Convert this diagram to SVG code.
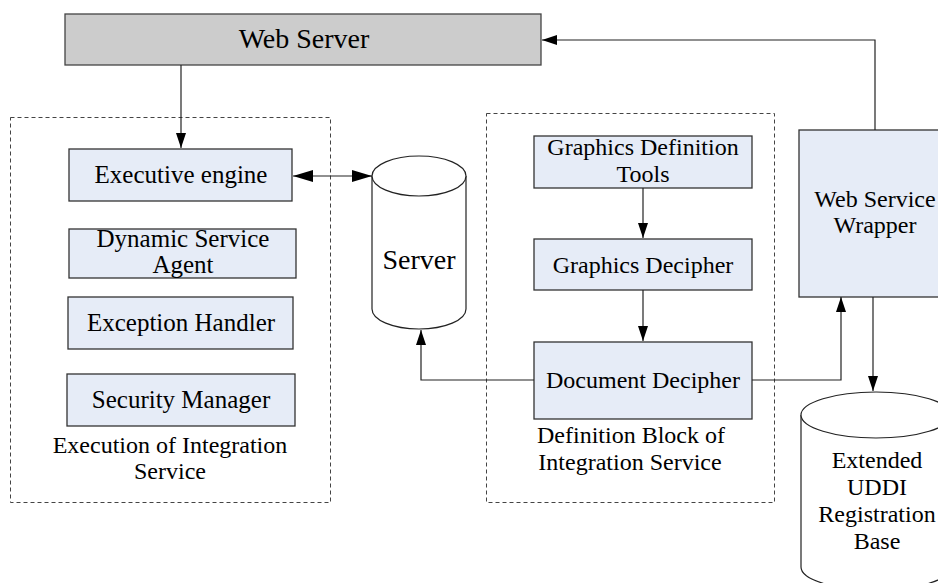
<svg xmlns="http://www.w3.org/2000/svg" width="938" height="583" viewBox="0 0 938 583">
  <defs>
    <marker id="arrow" viewBox="0 0 15 10" refX="15" refY="5" markerWidth="15" markerHeight="10" markerUnits="userSpaceOnUse" orient="auto-start-reverse">
      <path d="M0,0 L15,5 L0,10 Z" fill="#000"/>
    </marker>
    <marker id="arrowBig" viewBox="0 0 20 12" refX="20" refY="6" markerWidth="20" markerHeight="12" markerUnits="userSpaceOnUse" orient="auto-start-reverse">
      <path d="M0,0 L20,6 L0,12 Z" fill="#000"/>
    </marker>
  </defs>
  <style>
    text { font-family: "Liberation Serif", "Times New Roman", serif; fill: #000; text-anchor: middle; }
    .box { fill: #e6ecf7; stroke: #333; stroke-width: 1.3; }
    .gray { fill: #cccccc; stroke: #444; stroke-width: 1.3; }
    .group { fill: none; stroke: #444; stroke-width: 1; stroke-dasharray: 4 3; }
    .db { fill: #fff; stroke: #222; stroke-width: 1.2; }
    .wire { fill: none; stroke: #222; stroke-width: 1.2; }
    .t25 { font-size: 25px; }
    .t24 { font-size: 24px; }
    .t28 { font-size: 28px; }
  </style>
  <rect width="938" height="583" fill="#fff"/>

  <!-- dashed grouping frames -->
  <g id="execution-block">
    <rect class="group" x="10.5" y="117.5" width="320" height="385"/>
    <text class="t24" x="170" y="453">Execution of Integration</text>
    <text class="t24" x="170" y="479">Service</text>
  </g>
  <g id="definition-block">
    <rect class="group" x="486.5" y="113.5" width="288" height="389"/>
    <text class="t24" x="631" y="443">Definition Block of</text>
    <text class="t24" x="630" y="470">Integration Service</text>
  </g>

  <g id="web-server">
    <rect class="gray" x="65" y="14" width="476" height="51"/>
    <text class="t28" x="304" y="48">Web Server</text>
  </g>

  <g id="executive-engine">
    <rect class="box" x="69" y="149" width="223" height="52"/>
    <text class="t25" x="181" y="183">Executive engine</text>
  </g>
  <g id="dynamic-service-agent">
    <rect class="box" x="69" y="229" width="227" height="49"/>
    <text class="t25" x="183" y="247">Dynamic Service</text>
    <text class="t25" x="183" y="273">Agent</text>
  </g>
  <g id="exception-handler">
    <rect class="box" x="68" y="297" width="225" height="52"/>
    <text class="t25" x="181" y="331">Exception Handler</text>
  </g>
  <g id="security-manager">
    <rect class="box" x="67" y="374" width="228" height="52"/>
    <text class="t25" x="181" y="408">Security Manager</text>
  </g>

  <g id="server">
    <path class="db" d="M372,176 L372,309 A47,20 0 0 0 466,309 L466,176"/>
    <ellipse class="db" cx="419" cy="176" rx="47" ry="20"/>
    <text class="t28" x="419" y="269">Server</text>
  </g>

  <g id="graphics-definition-tools">
    <rect class="box" x="534" y="136" width="218" height="52"/>
    <text class="t24" x="643" y="155">Graphics Definition</text>
    <text class="t24" x="643" y="182">Tools</text>
  </g>
  <g id="graphics-decipher">
    <rect class="box" x="534" y="239" width="218" height="51"/>
    <text class="t24" x="643" y="273">Graphics Decipher</text>
  </g>
  <g id="document-decipher">
    <rect class="box" x="534" y="342" width="218" height="77"/>
    <text class="t24" x="643" y="388">Document Decipher</text>
  </g>

  <g id="web-service-wrapper">
    <rect class="box" x="799" y="130" width="150" height="167"/>
    <text class="t24" x="875" y="207">Web Service</text>
    <text class="t24" x="875" y="233">Wrapper</text>
  </g>

  <g id="uddi-base">
    <path class="db" d="M801,415 L801,567 A75,23 0 0 0 951,567 L951,415"/>
    <ellipse class="db" cx="876" cy="415" rx="75" ry="23"/>
    <text class="t24" x="877" y="468">Extended</text>
    <text class="t24" x="877" y="495">UDDI</text>
    <text class="t24" x="877" y="522">Registration</text>
    <text class="t24" x="877" y="549">Base</text>
  </g>

  <g id="connectors">
    <line class="wire" x1="181" y1="65" x2="181" y2="148" marker-end="url(#arrow)"/>
    <line class="wire" x1="293" y1="176" x2="372" y2="176" marker-start="url(#arrowBig)" marker-end="url(#arrowBig)"/>
    <polyline class="wire" points="534,380 421,380 421,330" marker-end="url(#arrow)"/>
    <line class="wire" x1="643" y1="188" x2="643" y2="238" marker-end="url(#arrow)"/>
    <line class="wire" x1="643" y1="290" x2="643" y2="341" marker-end="url(#arrow)"/>
    <polyline class="wire" points="752,380 841,380 841,297" marker-end="url(#arrow)"/>
    <polyline class="wire" points="875,130 875,40 542,40" marker-end="url(#arrow)"/>
    <line class="wire" x1="873" y1="297" x2="873" y2="391" marker-end="url(#arrow)"/>
  </g>
</svg>
